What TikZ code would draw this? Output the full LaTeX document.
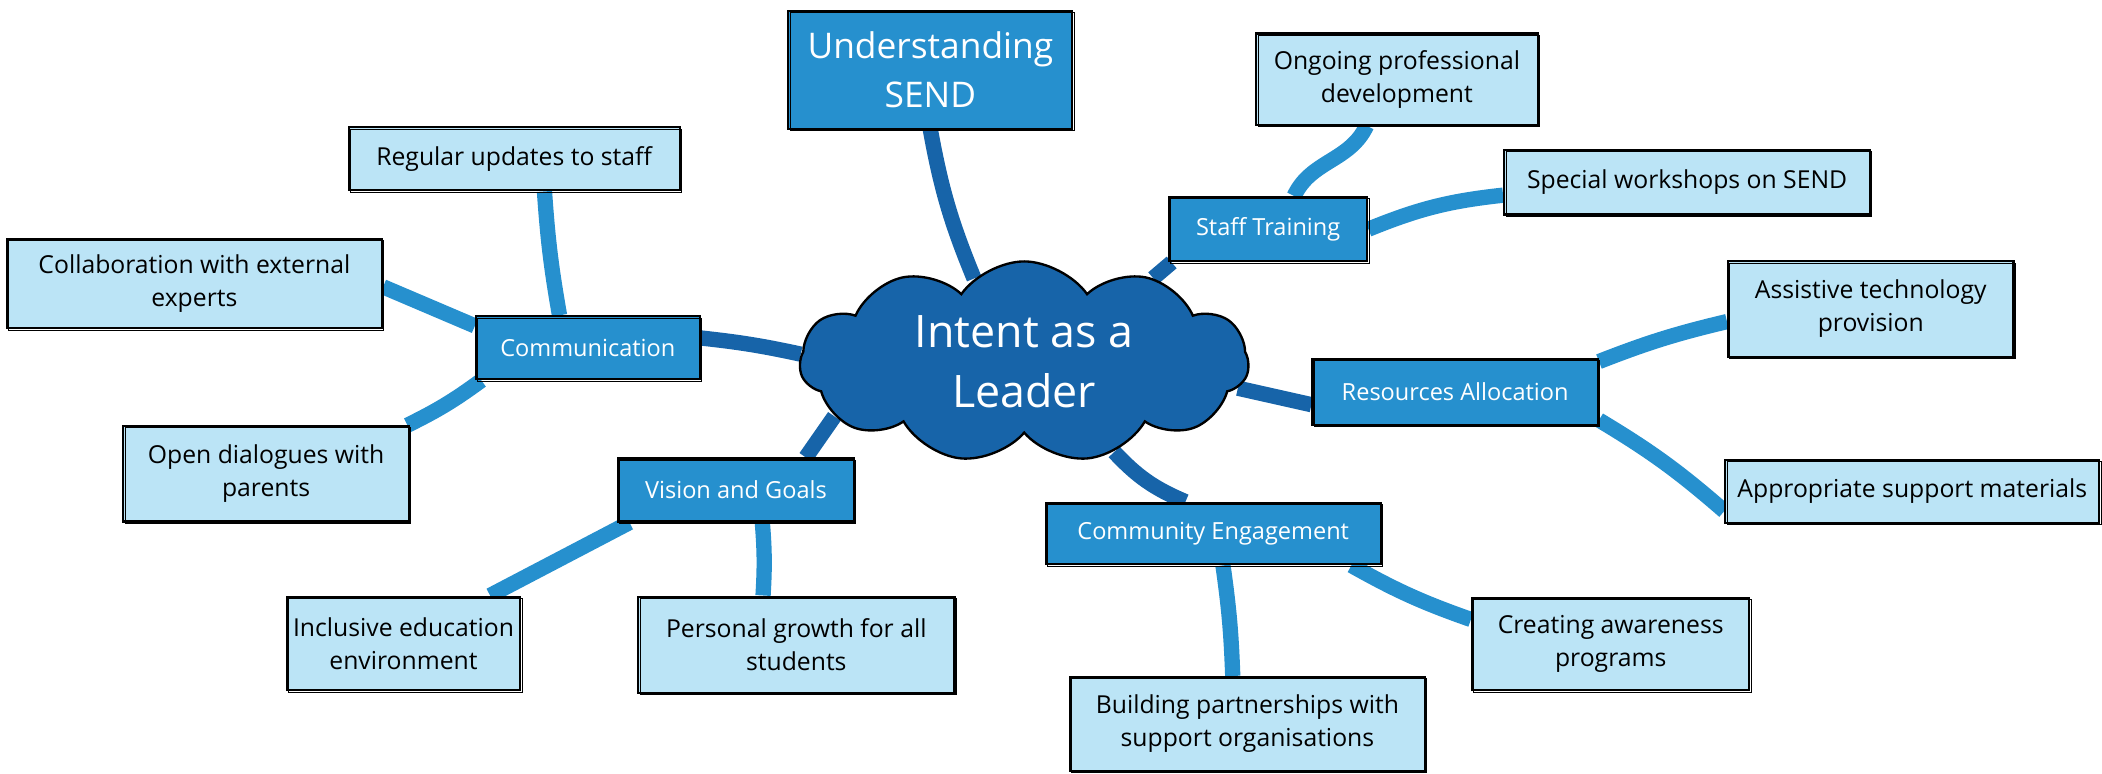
\documentclass[tikz,border=0pt]{standalone}
\usepackage{fontspec}
\setmainfont{Open Sans}
\usetikzlibrary{shapes.symbols,backgrounds}

\definecolor{leafblue}{HTML}{BBE4F6}
\definecolor{midblue}{HTML}{2690CE}
\definecolor{darkblue}{HTML}{1764A9}

\tikzset{
  sketch/.style={draw=black, line width=0.9pt,
    postaction={draw=black, line width=0.4pt, transform canvas={shift={(0.8pt,-0.7pt)}}}},
  leaf/.style={sketch, fill=leafblue, inner sep=2pt, align=center,
    font=\fontsize{10.5}{14}\selectfont},
  branch/.style={sketch, fill=midblue, text=white, inner sep=2pt, align=center,
    font=\fontsize{10}{14}\selectfont},
  trunk/.style={draw=darkblue, line width=6.5pt},
  twig/.style={draw=midblue, line width=6.5pt}
}

\begin{document}
\begin{tikzpicture}[x=0.02cm, y=-0.02cm]
            \useasboundingbox (0,0) rectangle (1568,577);
            % centre
            \node[cloud, cloud puffs=11, cloud puff arc=110, aspect=2.2, draw=black, line width=1pt, fill=darkblue,
                  text=white, align=center, minimum width=6.7cm, minimum height=3cm, inner sep=0pt,
                  font=\fontsize{19}{25.5}\selectfont] (intent) at (764,270) {Intent as a\\Leader};
            % main branches
            \node[branch, minimum width=4.24cm, minimum height=1.76cm, font=\fontsize{15}{21}\selectfont]
                  (und) at (694,52) {Understanding\\SEND};
            \node[branch, minimum width=3.34cm, minimum height=0.94cm] (comm) at (438.5,259.5) {Communication};
            \node[branch, minimum width=3.52cm, minimum height=0.94cm] (vision) at (549,365.5) {Vision and Goals};
            \node[branch, minimum width=2.96cm, minimum height=0.96cm] (staff) at (946,171) {Staff Training};
            \node[branch, minimum width=4.26cm, minimum height=0.98cm] (res) at (1085.5,292.5) {Resources Allocation};
            \node[branch, minimum width=5cm, minimum height=0.92cm] (comty) at (905,398) {Community Engagement};
            % leaves
            \node[leaf, minimum width=4.94cm, minimum height=0.94cm] (regular) at (383.5,118.5) {Regular updates to staff};
            \node[leaf, minimum width=5.6cm, minimum height=1.34cm] (collab) at (145,211.5) {Collaboration with external\\experts};
            \node[leaf, minimum width=4.26cm, minimum height=1.42cm] (open) at (198.5,353.5) {Open dialogues with\\parents};
            \node[leaf, minimum width=3.48cm, minimum height=1.4cm] (incl) at (301,480) {Inclusive education\\environment};
            \node[leaf, minimum width=4.72cm, minimum height=1.44cm] (pers) at (594,481) {Personal growth for all\\students};
            \node[leaf, minimum width=4.2cm, minimum height=1.36cm] (ongoing) at (1042,59) {Ongoing professional\\development};
            \node[leaf, minimum width=5.46cm, minimum height=0.96cm] (special) at (1258.5,136) {Special workshops on SEND};
            \node[leaf, minimum width=4.26cm, minimum height=1.42cm] (assist) at (1395.5,230.5) {Assistive technology\\provision};
            \node[leaf, minimum width=5.58cm, minimum height=0.94cm] (approp) at (1426.5,366.5) {Appropriate support materials};
            \node[leaf, minimum width=4.14cm, minimum height=1.38cm] (create) at (1201.5,480.5) {Creating awareness\\programs};
            \node[leaf, minimum width=5.3cm, minimum height=1.4cm] (build) at (930.5,540) {Building partnerships with\\support organisations};
            \begin{scope}[on background layer]
            \draw[trunk] (und.south) to[bend right=6] (intent.121);
            \draw[trunk] (comm.5) to[bend left=3] (intent.178);
            \draw[trunk] (vision.25) -- (intent.196);
            \draw[trunk] (staff.199) -- (intent.33);
            \draw[trunk] (res.185) -- (intent.-7);
            \draw[trunk] (comty.131) to[bend left=12] (intent.-45);
            \draw[twig] (regular.-47) to[bend right=3] (comm.131);
            \draw[twig] (collab.-1) -- (comm.169);
            \draw[twig] (open.19) to[bend right=5] (comm.197);
            \draw[twig] (vision.197) -- (incl.29);
            \draw[twig] (vision.-51) to[bend left=4] (pers.124);
            \draw[twig] (staff.52) to[out=65, in=-115] (ongoing.237);
            \draw[twig] (staff.east) to[bend left=8] (special.184);
            \draw[twig] (res.12) to[bend left=4] (assist.185);
            \draw[twig] (res.-11) to[bend left=5] (approp.186);
            \draw[twig] (comty.-13) to[bend right=5] (create.170);
            \draw[twig] (comty.-73) to[bend left=3] (build.107);
            \end{scope}
\end{tikzpicture}
\end{document}
